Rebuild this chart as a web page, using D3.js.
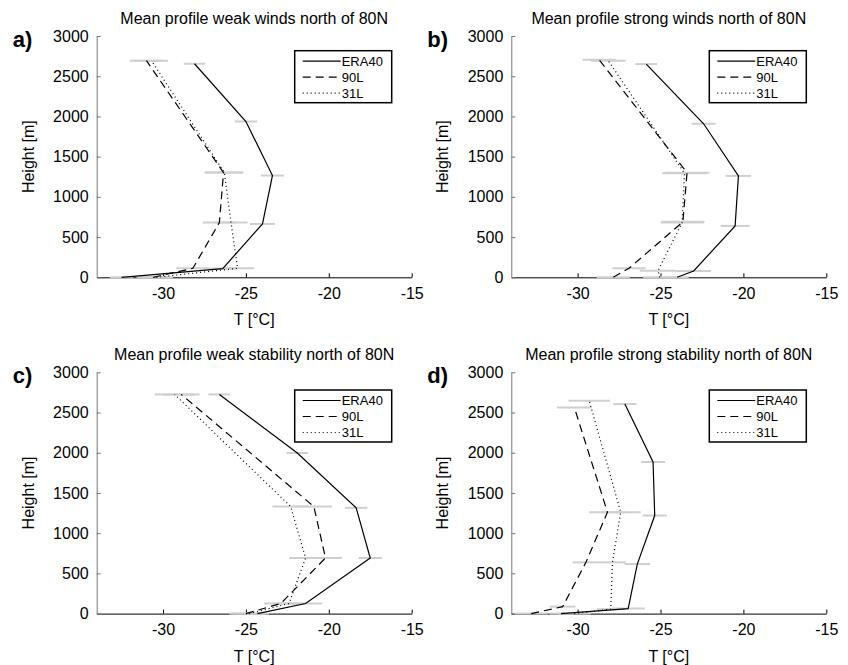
<!DOCTYPE html>
<meta charset="utf-8">
<style>
  body { margin: 0; background: #fff; }
  svg text { font-family: "Liberation Sans", Arial, sans-serif; fill: #000; }
  .err { stroke: #cfcfcf; stroke-width: 2px; }
  .prof { fill: none; stroke: #000; stroke-width: 1.2px; }
</style>
<body>
<script src="https://d3js.org/d3.v7.min.js"></script>
<script>
// ---- data: [height m, temperature degC, spread degC] ----
var seriesNames = ["ERA40", "90L", "31L"];
var panelLetters = ["a)", "b)", "c)", "d)"];
var panelTitles = [
  "Mean profile weak winds north of 80N",
  "Mean profile strong winds north of 80N",
  "Mean profile weak stability north of 80N",
  "Mean profile strong stability north of 80N"
];
var tempTicks = [-30, -25, -20, -15];
var heightTicks = [0, 500, 1000, 1500, 2000, 2500, 3000];

var weakWindsERA40 = [[0, -32.5, 0.7], [108, -26.4, 0.8], [664, -24.0, 0.75], [1265, -23.4, 0.7], [1937, -25.0, 0.67], [2655, -28.1, 0.65]];
var weakWinds90L   = [[0, -30.6, 1.0], [112, -28.2, 1.0], [680, -26.6, 1.0], [1302, -26.35, 1.15], [2693, -31.0, 1.0]];
var weakWinds31L   = [[0, -30.4, 1.0], [112, -25.5, 1.0], [680, -25.9, 1.0], [1302, -26.3, 1.15], [2693, -30.7, 1.0]];

var strongWindsERA40 = [[0, -24.0, 0.7], [79, -23.0, 1.05], [639, -20.5, 0.87], [1261, -20.3, 0.77], [1909, -22.4, 0.72], [2651, -25.86, 0.66]];
var strongWinds90L   = [[0, -27.85, 1.0], [112, -26.9, 1.0], [690, -23.65, 1.3], [1300, -23.4, 1.35], [2705, -28.7, 1.0]];
var strongWinds31L   = [[0, -25.05, 1.0], [82, -25.15, 1.1], [680, -23.7, 1.3], [1293, -23.55, 1.35], [2693, -28.15, 1.05]];

var weakStabERA40 = [[0, -24.3, 0.7], [125, -21.4, 1.0], [691, -17.5, 0.7], [1315, -18.35, 0.68], [1997, -21.9, 0.65], [2725, -26.6, 0.66]];
var weakStab90L   = [[0, -25.0, 1.0], [125, -22.9, 1.0], [691, -20.2, 1.0], [1330, -20.9, 1.1], [2725, -28.9, 1.1]];
var weakStab31L   = [[0, -24.8, 1.0], [125, -22.4, 1.0], [691, -21.4, 1.0], [1330, -22.3, 1.1], [2725, -29.3, 1.2]];

var strongStabERA40 = [[0, -31.0, 0.7], [62, -26.95, 1.0], [616, -26.4, 0.77], [1219, -25.35, 0.73], [1885, -25.45, 0.72], [2605, -27.15, 0.7]];
var strongStab90L   = [[0, -32.8, 1.0], [87, -30.9, 0.77], [637, -29.5, 0.8], [1261, -28.2, 1.1], [2563, -30.2, 1.05]];
var strongStab31L   = [[0, -30.2, 1.0], [55, -28.0, 0.85], [637, -27.9, 0.8], [1261, -27.4, 1.2], [2646, -29.3, 1.25]];

var panelSeries = [
  [weakWindsERA40, weakWinds90L, weakWinds31L],
  [strongWindsERA40, strongWinds90L, strongWinds31L],
  [weakStabERA40, weakStab90L, weakStab31L],
  [strongStabERA40, strongStab90L, strongStab31L]
];

// ---- layout ----
var dashes = [null, "8,5", "1,3"];
var plotW = 315, plotH = 241.3;
var lefts = [96.7, 511.3], tops = [36, 372.3];
var legendTop = [14.7, 17.7];
var plain = function (d) { return String(d); };   // hyphen minus, no thousands comma

var svg = d3.select("body").append("svg")
  .attr("width", 848)
  .attr("height", 665);

panelSeries.forEach(function (series, i) {
  var col = i % 2, row = Math.floor(i / 2);
  var g = svg.append("g")
    .attr("transform", "translate(" + lefts[col] + "," + tops[row] + ")");

  var x = d3.scaleLinear().domain([-34, -15]).range([0, plotW]);
  var y = d3.scaleLinear().domain([0, 3000]).range([plotH, 0]);

  // axes, ticks pointing inward
  var ax = g.append("g")
    .attr("transform", "translate(0," + plotH + ")")
    .call(d3.axisBottom(x).tickValues(tempTicks).tickFormat(plain)
      .tickSizeInner(-4).tickSizeOuter(0).tickPadding(10));
  ax.selectAll("path,line").attr("stroke", "#000");
  ax.selectAll("text").attr("font-size", 16).attr("fill", "#000");

  var ay = g.append("g")
    .call(d3.axisLeft(y).tickValues(heightTicks).tickFormat(plain)
      .tickSizeInner(-4).tickSizeOuter(0).tickPadding(8));
  ay.selectAll("path,line").attr("stroke", "#777");
  ay.selectAll("text").attr("font-size", 16).attr("fill", "#000");

  // error bars
  series.forEach(function (s) {
    g.selectAll(null).data(s).enter().append("line")
      .attr("class", "err")
      .attr("x1", function (d) { return x(d[1] - d[2]); })
      .attr("x2", function (d) { return x(d[1] + d[2]); })
      .attr("y1", function (d) { return y(d[0]); })
      .attr("y2", function (d) { return y(d[0]); });
  });

  // profiles
  var line = d3.line()
    .x(function (d) { return x(d[1]); })
    .y(function (d) { return y(d[0]); });
  series.forEach(function (s, k) {
    g.append("path")
      .datum(s)
      .attr("class", "prof")
      .attr("stroke-dasharray", dashes[k])
      .attr("d", line);
  });

  // legend
  var lg = g.append("g").attr("transform", "translate(198," + legendTop[row] + ")");
  lg.append("rect")
    .attr("width", 97).attr("height", 52)
    .attr("fill", "#fff").attr("stroke", "#000").attr("stroke-width", 1.5);
  seriesNames.forEach(function (name, k) {
    var ry = 10.5 + k * 16;
    lg.append("line")
      .attr("x1", 8).attr("x2", 46).attr("y1", ry).attr("y2", ry)
      .attr("stroke", "#000").attr("stroke-width", 1.2)
      .attr("stroke-dasharray", dashes[k]);
    lg.append("text")
      .attr("x", 47).attr("y", ry + 4.5)
      .attr("font-size", 13)
      .text(name);
  });

  // title, labels
  g.append("text")
    .attr("x", plotW / 2).attr("y", -12.5)
    .attr("text-anchor", "middle").attr("font-size", 16)
    .text(panelTitles[i]);
  g.append("text")
    .attr("x", plotW / 2).attr("y", plotH + 48)
    .attr("text-anchor", "middle").attr("font-size", 16)
    .text("T [°C]");
  g.append("text")
    .attr("transform", "translate(-63," + (plotH / 2) + ") rotate(-90)")
    .attr("text-anchor", "middle").attr("font-size", 16)
    .text("Height [m]");
  g.append("text")
    .attr("x", -84).attr("y", 11)
    .attr("font-size", 22).attr("font-weight", "bold")
    .text(panelLetters[i]);
});
</script>
</body>
